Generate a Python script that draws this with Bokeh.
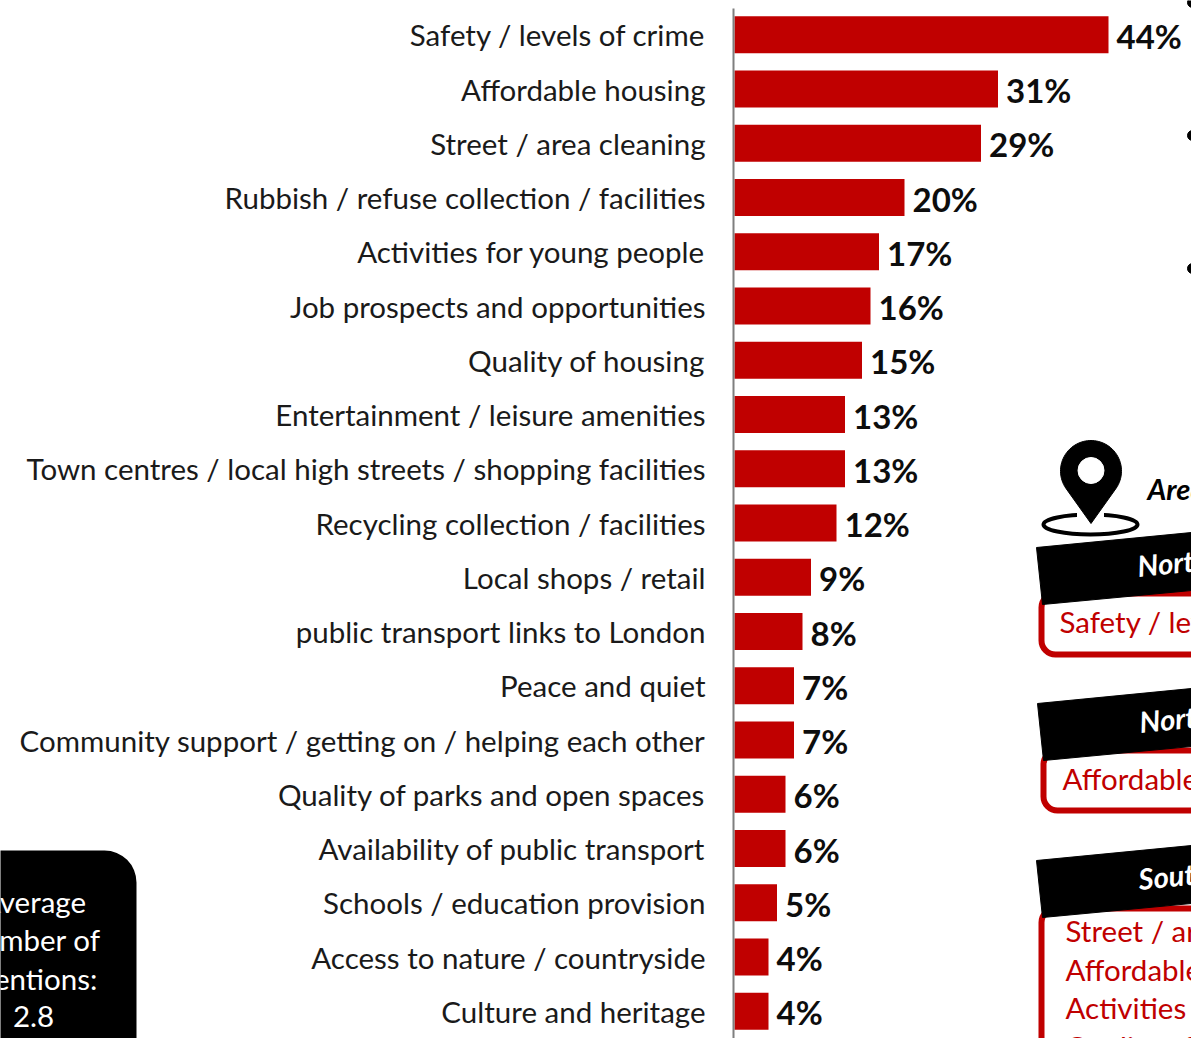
import numpy as np
from bokeh.core.properties import value
from bokeh.embed import file_html
from bokeh.models import ColumnDataSource, Range1d
from bokeh.plotting import figure
from bokeh.resources import INLINE

categories = [
    "Safety / levels of crime",
    "Affordable housing",
    "Street / area cleaning",
    "Rubbish / refuse collection / facilities",
    "Activities for young people",
    "Job prospects and opportunities",
    "Quality of housing",
    "Entertainment / leisure amenities",
    "Town centres / local high streets / shopping facilities",
    "Recycling collection / facilities",
    "Local shops / retail",
    "public transport links to London",
    "Peace and quiet",
    "Community support / getting on / helping each other",
    "Quality of parks and open spaces",
    "Availability of public transport",
    "Schools / education provision",
    "Access to nature / countryside",
    "Culture and heritage",
]
percentages = [44, 31, 29, 20, 17, 16, 15, 13, 13, 12, 9, 8, 7, 7, 6, 6, 5, 4, 4]

average_lines = ["Average", "number of", "mentions:", "2.8"]
region_title = "Area"
north_a_title = "North"
north_a_items = ["Safety / levels of crime"]
north_b_title = "North"
north_b_items = ["Affordable housing"]
south_title = "South"
south_items = [
    "Street / area cleaning",
    "Affordable housing",
    "Activities for young people",
    "Quality of housing",
]

WIDTH, HEIGHT = 1191, 1038
PX_PER_PCT = 8.5
ZERO_X = 734
ROW_STEP = 54.25
FIRST_ROW = 34.25
RED = "#c00000"
FONT = value("Lato")
BODY_SIZE = "29.5px"

p = figure(
    width=WIDTH,
    height=HEIGHT,
    output_backend="svg",
    toolbar_location=None,
    x_axis_type=None,
    y_axis_type=None,
    x_range=Range1d(-ZERO_X / PX_PER_PCT, (WIDTH - ZERO_X) / PX_PER_PCT),
    y_range=Range1d((HEIGHT - FIRST_ROW) / ROW_STEP, -FIRST_ROW / ROW_STEP),
    min_border=0,
    outline_line_color=None,
)
p.grid.visible = False
p.background_fill_color = "white"

# Overlay scale in page units for the callouts around the chart
p.extra_x_ranges["page"] = Range1d(0, WIDTH)
p.extra_y_ranges["page"] = Range1d(HEIGHT, 0)
page = dict(x_range_name="page", y_range_name="page")

rows = list(range(len(categories)))
source = ColumnDataSource(dict(
    row=rows,
    name=categories,
    pct=percentages,
    label=[f"{v}%" for v in percentages],
))

p.hbar(y="row", left=0, right="pct", height=37 / ROW_STEP, fill_color=RED,
       line_color=None, source=source)
p.text(x=0, y="row", text="name", x_offset=-29, y_offset=0, text_align="right",
       text_baseline="middle", text_font=FONT, text_font_size=BODY_SIZE,
       text_color="#1a1a1a", source=source)
p.text(x="pct", y="row", text="label", x_offset=8, y_offset=1, text_align="left",
       text_baseline="middle", text_font=FONT, text_font_style="bold",
       text_font_size="33px", text_color="#0d0d0d", source=source)

# Vertical baseline of the bars
p.segment(x0=[733], x1=[733], y0=[8], y1=[HEIGHT], line_color="#7f7f7f",
          line_width=2, **page)

# Bullet points cut by the page edge
p.scatter(x=[1192, 1192, 1192], y=[2, 135, 268], size=10, color="black", **page)

# Average mentions box
p.quad(left=[-60], right=[136], top=[850], bottom=[1120], fill_color="black",
       line_color=None, border_radius=32, **page)
p.text(x=[33] * 4, y=[901, 939, 978, 1016], text=average_lines, text_align="center",
       text_baseline="middle", text_font=FONT, text_font_size=BODY_SIZE,
       text_color="white", **page)

# Map pin with its ground ring
p.ellipse(x=[1090], y=[524], width=[94], height=[20], fill_color=None,
          line_color="black", line_width=4, **page)
p.patch(x=[1077, 1103, 1103, 1077], y=[509, 509, 520, 520], color="white", **page)
theta = np.linspace(np.radians(-35), np.radians(215), 60)
p.patch(
    x=np.r_[1090.5 + 30.5 * np.cos(theta), 1090.5],
    y=np.r_[470.5 - 30.5 * np.sin(theta), 523],
    color="black",
    **page,
)
p.circle(x=[1090.5], y=[470], radius=13, color="white", **page)
p.text(x=[1147], y=[488], text=[region_title], text_baseline="middle", text_font=FONT,
       text_font_style="bold italic", text_font_size="29px", text_color="black", **page)


def region_panel(title, items, banner_left, banner_top, box_left, box_bottom,
                 box_top, title_xy, text_x, first_text_y):
    """Red rounded list box with a tilted black title banner over its top edge."""
    p.quad(left=[box_left + 3], right=[1300], top=[box_top], bottom=[box_bottom - 3],
           fill_color="white", line_color=RED, line_width=6, border_radius=14, **page)
    for i, item in enumerate(items):
        p.text(x=[text_x], y=[first_text_y + i * 38.5], text=[item], text_baseline="middle",
               text_font=FONT, text_font_size=BODY_SIZE, text_color=RED, **page)
    p.patch(
        x=[banner_left, 1191, 1191, banner_left + 6],
        y=[banner_top, banner_top - 15, banner_top + 43, banner_top + 57],
        color="black",
        **page,
    )
    p.text(x=[title_xy[0]], y=[title_xy[1]], text=[title], angle=np.radians(5.5),
           text_baseline="middle", text_font=FONT, text_font_style="bold italic",
           text_font_size="29px", text_color="white", **page)


region_panel(north_a_title, north_a_items, 1036, 547, 1038, 657, 593, (1137, 565), 1059, 621)
region_panel(north_b_title, north_b_items, 1037, 703, 1040, 813, 750, (1139, 721), 1062, 778)
region_panel(south_title, south_items, 1036, 860, 1038, 1200, 908, (1138, 878), 1065, 930)

open("out.html", "w").write(file_html(p, INLINE))
